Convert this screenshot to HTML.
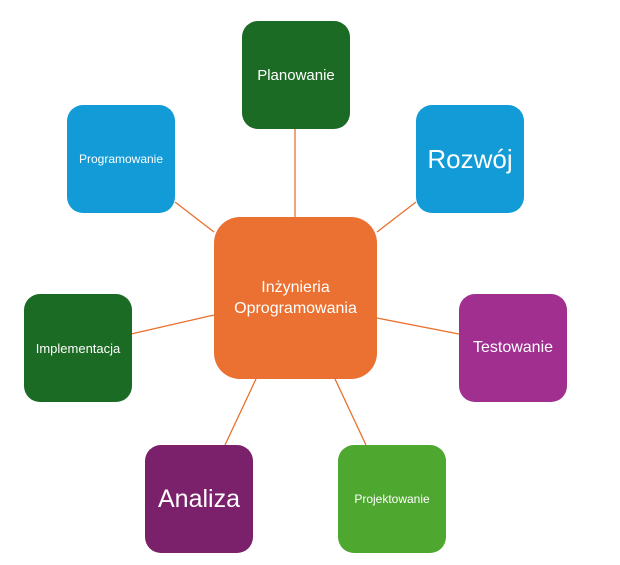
<!DOCTYPE html>
<html><head><meta charset="utf-8"><style>
body{margin:0;width:620px;height:565px;background:#fff;position:relative;overflow:hidden;font-family:"Liberation Sans","DejaVu Sans",sans-serif}
.b{position:absolute;width:108px;height:108px;border-radius:16px;color:#fff;display:flex;align-items:center;justify-content:center;text-align:center;box-sizing:border-box}
svg{position:absolute;left:0;top:0}
</style></head><body>
<svg width="620" height="565"><g stroke="#e8702f" stroke-width="1.3">
<line x1="295" y1="129" x2="295" y2="217"/>
<line x1="175" y1="202" x2="214" y2="232"/>
<line x1="416" y1="202" x2="377" y2="232"/>
<line x1="131" y1="334" x2="214" y2="315"/>
<line x1="459" y1="334" x2="377" y2="318"/>
<line x1="225" y1="445" x2="256" y2="379"/>
<line x1="366" y1="445" x2="335" y2="379"/>
</g></svg>
<div class="b" style="left:242px;top:21px;background:#1c6b25;font-size:15px">Planowanie</div>
<div class="b" style="left:67px;top:105px;background:#129bd6;font-size:12px">Programowanie</div>
<div class="b" style="left:416px;top:105px;background:#129bd6;font-size:26px">Rozwój</div>
<div class="b" style="left:214px;top:217px;width:163px;height:162px;border-radius:26px;background:#ea7131;font-size:16px;line-height:21px">Inżynieria<br>Oprogramowania</div>
<div class="b" style="left:24px;top:294px;background:#1c6b25;font-size:13px">Implementacja</div>
<div class="b" style="left:459px;top:294px;background:#a02f8f;font-size:16px">Testowanie</div>
<div class="b" style="left:145px;top:445px;background:#7b206a;font-size:25px">Analiza</div>
<div class="b" style="left:338px;top:445px;background:#4ea72e;font-size:12px">Projektowanie</div>
</body></html>
